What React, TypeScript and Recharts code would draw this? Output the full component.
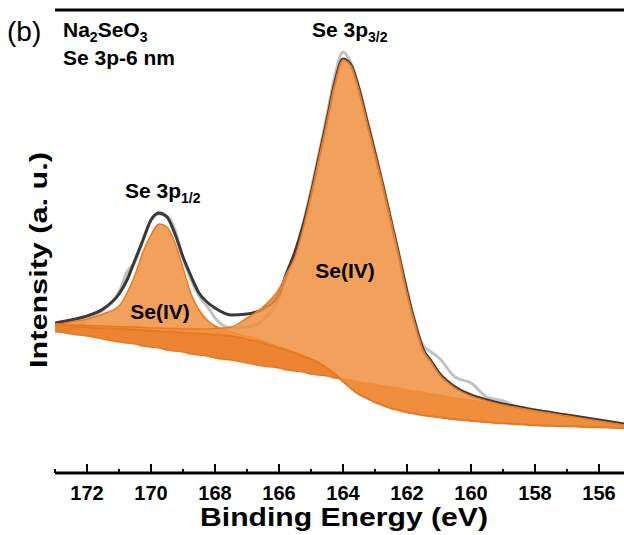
import { Area, ComposedChart, Line, ReferenceLine, XAxis, YAxis } from "recharts";

// binding energy grid (eV)
const energy = [
  173, 172.5, 172, 171.5, 171, 170.75, 170.5, 170.25, 170, 169.75, 169.5, 169.25, 169, 168.75, 168.5, 168.25, 168,
  167.5, 167, 166.5, 166, 165.75, 165.5, 165.25, 165, 164.75, 164.5, 164.25, 164, 163.75, 163.5, 163.25, 163, 162.75,
  162.5, 162.25, 162, 161.75, 161.5, 161.25, 161, 160.5, 160, 159.5, 159, 158.5, 158, 157, 156, 155
];

// measured spectrum (grey)
const rawCounts = [
  141, 144, 153, 163, 181, 201, 211, 233, 253, 259, 257, 243, 215, 193, 177, 167, 155, 145, 146, 153, 175, 198, 221, 249,
  283, 320, 358, 398, 421, 410, 385, 353, 321, 288, 253, 218, 183, 148, 128, 121, 115, 96, 90, 76, 72, 65, 62, 57, 52, 47
];

// fitted envelope (dark line)
const envelopeFit = [
  150, 153, 157, 164, 179, 193, 213, 233, 253, 260, 256, 239, 216, 197, 180, 171, 165, 158, 159, 164, 179, 201, 221, 247,
  279, 316, 353, 391, 414, 408, 384, 352, 320, 287, 252, 217, 181, 150, 124, 112, 100, 86, 78, 73, 69, 66, 63, 58, 53, 48
];

// Se(IV) 3p1/2 component (on top of background)
const se3p12Fit = [
  148, 151, 154, 159, 167, 180, 198, 221, 238, 249, 246, 230, 205, 179, 163, 153, 147, 141, 137, 132, 126, 123, 120, 117,
  114, 110, 105, 99, 92, 85, 79, 75, 71, 68, 65, 63, 61, 59.5, 58, 57, 56, 54, 52.5, 51, 50, 49, 48, 47, 46, 45
];

// Se(IV) 3p3/2 component (on top of background)
const se3p32Fit = [
  149, 148, 147.5, 147, 146.5, 146, 146, 145.5, 145, 145, 144.5, 144.5, 144, 144, 144, 144, 144.5, 146, 155, 166, 184, 200,
  216, 244, 278, 315, 352, 390, 413, 407, 383, 351, 319, 287, 252, 217, 180, 149, 123, 111, 99, 85, 77, 72, 68, 65, 62, 57,
  52, 47
];

// Shirley background
const shirleyBg = [
  148, 147, 146, 145, 144.5, 144, 143.5, 143, 142.5, 142, 141.5, 141, 140.5, 140, 139.5, 139, 138.5, 137, 134, 130, 125, 123,
  120, 117, 114, 110, 105, 99, 92, 85, 79, 75, 71, 68, 65, 63, 61, 59.5, 58, 57, 56, 54, 52.5, 51, 50, 49, 48, 47, 46, 45
];

// straight baseline under the background
const linearBg = [
  142, 139, 137, 134, 131, 130, 129, 127, 126, 125, 123, 122, 121, 119, 118, 117, 115, 113, 110, 107, 105, 103, 102, 101,
  99, 98, 97, 95, 94, 93, 91, 90, 89, 87, 86, 85, 83, 82, 81, 79, 78, 75, 73, 70, 67, 65, 62, 57, 51, 46
];

const energyTicks = [173, 172, 171, 170, 169, 168, 167, 166, 165, 164, 163, 162, 161, 160, 159, 158, 157, 156, 155];

const data = energy.map((e, i) => ({
  e,
  raw: rawCounts[i],
  env: envelopeFit[i],
  shirley: shirleyBg[i],
  bg: [linearBg[i], shirleyBg[i]],
  p12: [shirleyBg[i], se3p12Fit[i]],
  p32: [shirleyBg[i], se3p32Fit[i]]
}));

const FONT = "'Liberation Sans', Arial, sans-serif";
const ORANGE = "#f0913f";
const ORANGE_DARK = "#e97a22";

function BottomTick({ x, y, payload }: { x: number; y: number; payload: { value: number } }) {
  const v = payload.value;
  const major = v % 2 === 0;
  return (
    <g>
      <line x1={x} x2={x} y1={y} y2={y - (major ? 9 : 4)} stroke="#000" strokeWidth={2} />
      {major && (
        <text x={x} y={y + 27} textAnchor="middle" fontSize={20} fontWeight="bold" fontFamily={FONT} fill="#000">
          {v}
        </text>
      )}
    </g>
  );
}

export default function App() {
  return (
    <div style={{ position: "absolute", left: 0, top: 0, width: 624, height: 535, overflow: "hidden", background: "#fff" }}>
      <ComposedChart width={640} height={535} data={data} margin={{ top: 10, right: 9, bottom: 0, left: 55 }}>
        <XAxis
          dataKey="e"
          type="number"
          domain={[155, 173]}
          reversed
          allowDataOverflow
          ticks={energyTicks}
          interval={0}
          tickSize={0}
          tickMargin={0}
          tickLine={false}
          tick={(props: any) => <BottomTick {...props} />}
          height={62}
          axisLine={{ stroke: "#000", strokeWidth: 3 }}
        />
        <YAxis
          type="number"
          domain={[0, 463]}
          allowDataOverflow
          width={0}
          tick={false}
          tickLine={false}
          axisLine={{ stroke: "#000", strokeWidth: 3 }}
        />
        <Line type="monotone" dataKey="raw" stroke="#c2c2c2" strokeWidth={3} dot={false} isAnimationActive={false} zIndex={10} />
        <Line type="monotone" dataKey="env" stroke="#3a3a3a" strokeWidth={3} dot={false} isAnimationActive={false} zIndex={11} />
        <Line type="monotone" dataKey="shirley" stroke="#bdbdbd" strokeWidth={3} dot={false} isAnimationActive={false} zIndex={12} />
        <Area
          type="monotone"
          dataKey="bg"
          fill={ORANGE_DARK}
          fillOpacity={0.92}
          stroke={ORANGE_DARK}
          strokeWidth={1.5}
          isAnimationActive={false}
          zIndex={100}
        />
        <Area
          type="monotone"
          dataKey="p12"
          fill={ORANGE}
          fillOpacity={0.85}
          stroke={ORANGE_DARK}
          strokeWidth={1.5}
          isAnimationActive={false}
          zIndex={101}
        />
        <Area
          type="monotone"
          dataKey="p32"
          fill={ORANGE}
          fillOpacity={0.85}
          stroke={ORANGE_DARK}
          strokeWidth={1.5}
          isAnimationActive={false}
          zIndex={102}
        />
        <ReferenceLine y={463} stroke="#000" strokeWidth={3} zIndex={500} />
      </ComposedChart>
      <svg
        width={624}
        height={535}
        style={{ position: "absolute", left: 0, top: 0, pointerEvents: "none" }}
        fontFamily={FONT}
      >
        <text x={7} y={41} fontSize={28}>
          (b)
        </text>
        <text x={63} y={37} fontSize={21} fontWeight="bold">
          Na
          <tspan fontSize={14} dy={5}>
            2
          </tspan>
          <tspan dy={-5}>SeO</tspan>
          <tspan fontSize={14} dy={5}>
            3
          </tspan>
        </text>
        <text x={63} y={65} fontSize={21} fontWeight="bold">
          Se 3p-6 nm
        </text>
        <text x={312} y={37} fontSize={21} fontWeight="bold">
          Se 3p
          <tspan fontSize={14} dy={5}>
            3/2
          </tspan>
        </text>
        <text x={125} y={198} fontSize={21} fontWeight="bold">
          Se 3p
          <tspan fontSize={14} dy={5}>
            1/2
          </tspan>
        </text>
        <text x={160} y={319} fontSize={21} fontWeight="bold" textAnchor="middle">
          Se(IV)
        </text>
        <text x={345} y={278} fontSize={21} fontWeight="bold" textAnchor="middle">
          Se(IV)
        </text>
        <text
          x={344}
          y={526}
          fontSize={25}
          fontWeight="bold"
          textAnchor="middle"
          textLength={288}
          lengthAdjust="spacingAndGlyphs"
        >
          Binding Energy (eV)
        </text>
        <text
          transform="translate(47,260) rotate(-90)"
          fontSize={24}
          fontWeight="bold"
          textAnchor="middle"
          textLength={216}
          lengthAdjust="spacingAndGlyphs"
        >
          Intensity (a. u.)
        </text>
      </svg>
    </div>
  );
}
